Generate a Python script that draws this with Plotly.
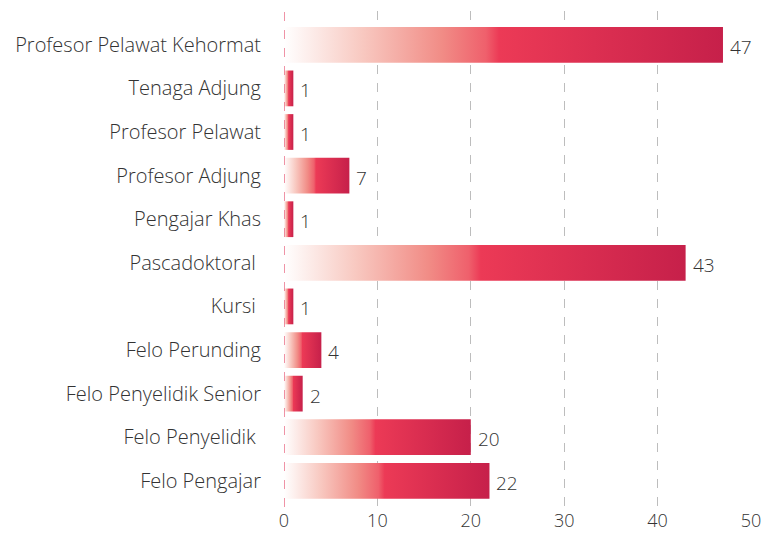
import plotly.graph_objects as go

# Staff categories (top to bottom) and head counts
categories = [
    "Profesor Pelawat Kehormat",
    "Tenaga Adjung",
    "Profesor Pelawat",
    "Profesor Adjung",
    "Pengajar Khas",
    "Pascadoktoral\u00a0",
    "Kursi\u00a0",
    "Felo Perunding",
    "Felo Penyelidik Senior",
    "Felo Penyelidik\u00a0",
    "Felo Pengajar",
]
counts = [47, 1, 1, 7, 1, 43, 1, 4, 2, 20, 22]
x_ticks = [0, 10, 20, 30, 40, 50]

FONT = "Open Sans"
WEIGHT = 300
TEXT_COLOR = "#333333"
HALF = 0.41  # half bar thickness in category units

gradient = [
    [0.0, "rgb(255,255,255)"],
    [0.18, "rgb(248,200,192)"],
    [0.36, "rgb(241,140,134)"],
    [0.46, "rgb(239,96,108)"],
    [0.49, "rgb(236,58,86)"],
    [1.0, "rgb(198,32,74)"],
]

fig = go.Figure()

for i, (name, v) in enumerate(zip(categories, counts)):
    fig.add_trace(go.Scatter(
        x=[0, v, v, 0, 0],
        y=[i - HALF, i - HALF, i + HALF, i + HALF, i - HALF],
        mode="lines",
        line=dict(width=0),
        fill="toself",
        fillgradient=dict(type="horizontal", colorscale=gradient),
        hoverinfo="skip",
        showlegend=False,
        name=name.strip(),
    ))
    fig.add_annotation(
        x=v, y=i, text=str(v), showarrow=False,
        xanchor="left", yanchor="middle", xshift=5, yshift=-2,
        font=dict(family=FONT, size=19, color=TEXT_COLOR, weight=WEIGHT),
    )

# dashed red baseline at zero
fig.add_shape(
    type="line", x0=0, x1=0, y0=0, y1=1, xref="x", yref="paper",
    line=dict(color="#e0284f", width=1, dash="dash"), layer="above",
)

fig.update_layout(
    width=770, height=533,
    margin=dict(l=284, r=19, t=11, b=26),
    paper_bgcolor="white", plot_bgcolor="white",
    font=dict(family=FONT, color=TEXT_COLOR, weight=WEIGHT),
    xaxis=dict(
        range=[0, 50], tickvals=x_ticks,
        showgrid=True, gridcolor="#bdbdbd", gridwidth=1, griddash="dash",
        zeroline=False, showline=False, ticks="",
        ticklabelstandoff=1, automargin=False,
        tickfont=dict(size=18, color=TEXT_COLOR, weight=WEIGHT),
    ),
    yaxis=dict(
        range=[10.6, -0.775],
        tickvals=list(range(len(categories))), ticktext=categories,
        showgrid=False, zeroline=False, showline=False, ticks="",
        ticklabelstandoff=22, automargin=False,
        tickfont=dict(size=20, color=TEXT_COLOR, weight=WEIGHT),
    ),
)

fig.write_html("out.html")
